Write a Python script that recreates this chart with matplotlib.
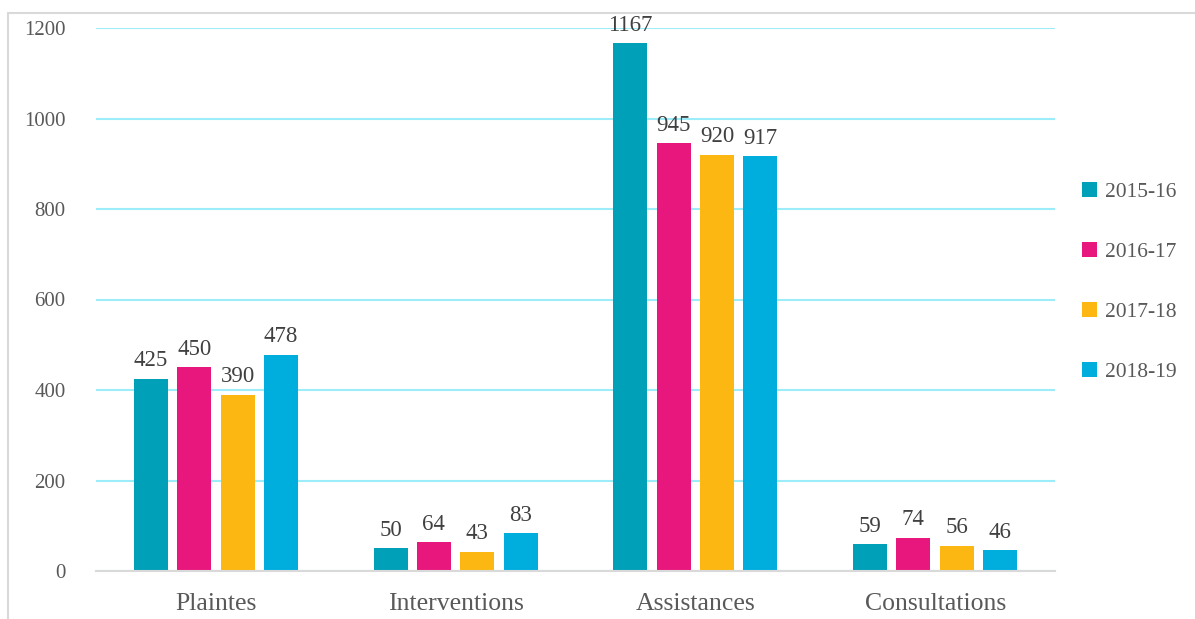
import matplotlib.pyplot as plt
import numpy as np
from matplotlib.patches import Rectangle

categories = ["Plaintes", "Interventions", "Assistances", "Consultations"]
years = ["2015-16", "2016-17", "2017-18", "2018-19"]
v_2015 = [425, 50, 1167, 59]
v_2016 = [450, 64, 945, 74]
v_2017 = [390, 43, 920, 56]
v_2018 = [478, 83, 917, 46]
colors = ["#00A0B8", "#E8177E", "#FDB713", "#00AEDD"]

plt.rcParams['font.family'] = ['Liberation Serif', 'DejaVu Serif']
txt = "#595959"

fig = plt.figure(figsize=(11.95, 6.19), dpi=100)
ax = fig.add_axes([96 / 1195, 1 - 571 / 619, (1055 - 96) / 1195, (571 - 28) / 619])

x = np.arange(len(categories))
width = 0.142
step = 0.181
series = [v_2015, v_2016, v_2017, v_2018]
for i, (vals, lab, c) in enumerate(zip(series, years, colors)):
    pos = x + (i - 1.5) * step
    bars = ax.bar(pos, vals, width, color=c, label=lab, zorder=3)
    for b, v in zip(bars, vals):
        ax.text(b.get_x() + b.get_width() / 2, v + 16, str(v), ha='center', va='bottom',
                fontsize=16.5, color="#404040", zorder=4)

ax.set_xlim(-0.5, 3.5)
ax.set_ylim(0, 1200)
ax.set_yticks(range(0, 1201, 200))
ax.set_xticks(x)
ax.set_xticklabels(categories, fontsize=18.5, color=txt)
ax.tick_params(axis='y', labelsize=15, labelcolor=txt, length=0, pad=22)
ax.tick_params(axis='x', length=0, pad=16)
ax.yaxis.grid(True, color="#9CEDF9", linewidth=1.5, zorder=0)
for s in ['top', 'right', 'left']:
    ax.spines[s].set_visible(False)
ax.spines['bottom'].set_color("#D9D9D9")
ax.spines['bottom'].set_linewidth(1.5)
ax.spines['bottom'].set_zorder(5)

leg = ax.legend(loc='center left', bbox_to_anchor=(1.008, 0.532), frameon=False,
                fontsize=15.5, labelspacing=1.85, handlelength=0.7, handleheight=0.7,
                handletextpad=0.35)
for t in leg.get_texts():
    t.set_color(txt)

fig.patches.append(Rectangle((8 / 1195, -0.1), 1.2, 1 - 13 / 619 + 0.1, transform=fig.transFigure,
                             fill=False, edgecolor="#D9D9D9", linewidth=1.5))

fig.savefig("out.png", dpi=100)
